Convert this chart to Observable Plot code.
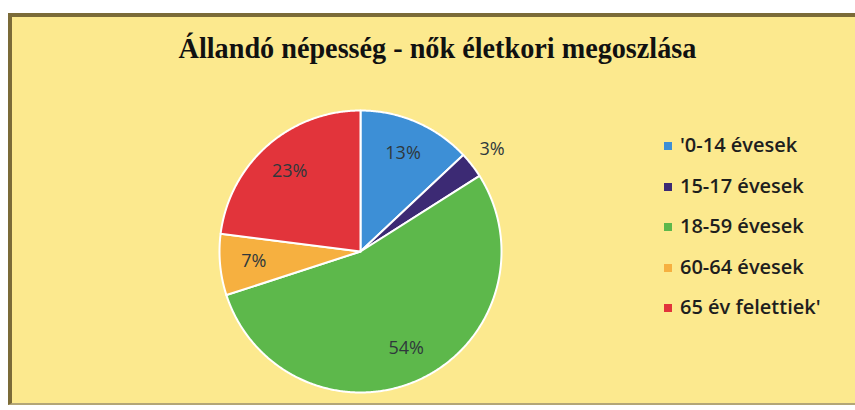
<!DOCTYPE html>
<html>
<head>
<meta charset="utf-8">
<script src="https://cdn.jsdelivr.net/npm/d3@7"></script>
<script src="https://cdn.jsdelivr.net/npm/@observablehq/plot@0.6"></script>
<style>
  html, body { margin: 0; padding: 0; background: #ffffff; width: 855px; height: 410px; overflow: hidden; }
  #frame { position: absolute; left: 8px; top: 13px; width: 860px; height: 392px;
    background: #fce98e; border-left: 4px solid #7b6b38; border-top: 4px solid #7b6b38;
    border-bottom: 2px solid #b3a677; box-sizing: border-box; }
  #title { position: absolute; left: 0; width: 875px; top: 31px; text-align: center;
    font-family: "Liberation Serif", "Times New Roman", serif; font-weight: bold; font-size: 30px;
    line-height: 34px; color: #111; transform: scaleX(0.94); transform-origin: 437px 0; }
  #chart { position: absolute; left: 0; top: 0; }
  #legend { position: absolute; left: 664px; top: 132px; font-family: "Open Sans", Lato, sans-serif;
    font-weight: 600; font-size: 20px; color: #1e1e1e; font-variant-ligatures: none; letter-spacing: 0px; }
  .row { height: 40.5px; display: flex; align-items: flex-start; line-height: 26px; }
  .sw { width: 8px; height: 8px; margin-top: 10px; margin-right: 8px; }
</style>
</head>
<body>
<div id="frame"></div>
<div id="title">Állandó népesség - nők életkori megoszlása</div>
<div id="chart"></div>
<div id="legend"></div>
<script>
const categories = ["'0-14 évesek", "15-17 évesek", "18-59 évesek", "60-64 évesek", "65 év felettiek'"];
const values = [13, 3, 54, 7, 23];
const labels = ["13%", "3%", "54%", "7%", "23%"];
const colors = ["#3d8fd6", "#3c2a74", "#5db84b", "#f6b040", "#e2343b"];

// layout
const W = 855, H = 410, cx = 360, cy = 251, R = 141;

const arcs = d3.pie().sort(null).value(d => d.value)(categories.map((c, i) => ({cat: c, value: values[i], label: labels[i]})));

const pts = [];
for (const a of arcs) {
  pts.push({cat: a.data.cat, x: 0, y: 0});
  const n = Math.max(4, Math.ceil((a.endAngle - a.startAngle) / (Math.PI / 360)));
  for (let k = 0; k <= n; k++) {
    const t = a.startAngle + (a.endAngle - a.startAngle) * k / n;
    pts.push({cat: a.data.cat, x: Math.sin(t), y: Math.cos(t)});
  }
  pts.push({cat: a.data.cat, x: 0, y: 0});
}

const labelPts = arcs.map(a => {
  const m = (a.startAngle + a.endAngle) / 2;
  const small = a.data.value < 5;
  const r = small ? 1.18 : 0.76;
  return {label: a.data.label, x: r * Math.sin(m), y: r * Math.cos(m)};
});

const plot = Plot.plot({
  width: W, height: H,
  margin: 0,
  style: {background: "transparent"},
  x: {domain: [-cx / R, (W - cx) / R], range: [0, W], axis: null},
  y: {domain: [-(H - cy) / R, cy / R], range: [H, 0], axis: null},
  color: {domain: categories, range: colors},
  marks: [
    Plot.line(pts, {x: "x", y: "y", z: "cat", fill: "cat", stroke: "white", strokeWidth: 2, strokeLinejoin: "round", curve: "linear"}),
    Plot.text(labelPts, {x: "x", y: "y", text: "label", fontSize: 18, fill: "#2f383c",
      fontFamily: "'Open Sans', Lato, sans-serif"})
  ]
});
document.getElementById("chart").appendChild(plot);

const lg = document.getElementById("legend");
categories.forEach((c, i) => {
  const row = document.createElement("div");
  row.className = "row";
  const sw = document.createElement("div");
  sw.className = "sw";
  sw.style.background = colors[i];
  const tx = document.createElement("span");
  tx.textContent = c;
  row.appendChild(sw); row.appendChild(tx);
  lg.appendChild(row);
});
</script>
</body>
</html>
